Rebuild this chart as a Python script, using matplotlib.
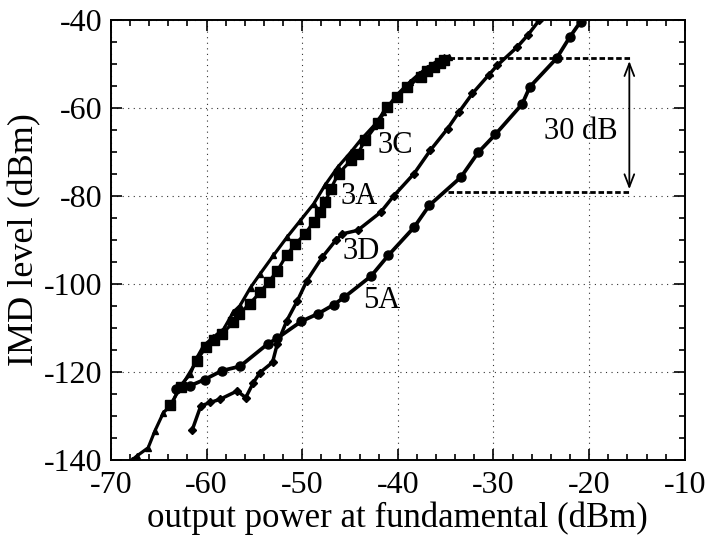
import matplotlib
matplotlib.use("Agg")
import matplotlib.pyplot as plt
from matplotlib.ticker import MultipleLocator

plt.rcParams['font.family'] = ['Liberation Serif', 'DejaVu Serif']
plt.rcParams['axes.unicode_minus'] = False

# ---- data ----
x_3c = [-67.8, -67.3, -66.1, -65.4, -64.5, -63.6, -62.9, -61.7, -61.0, -60.3, -59.3, -58.2,
        -57.2, -56.5, -55.4, -54.4, -53.0, -51.6, -50.2, -48.8, -47.6, -46.3, -44.9, -43.9,
        -42.5, -41.5, -40.1, -38.7, -37.8, -36.9, -36.0, -35.2, -34.7]
y_3c = [-140.0, -139.1, -137.2, -133.4, -129.2, -127.3, -123.5, -120.5, -116.7, -114.0, -112.1, -110.2,
        -106.4, -104.9, -100.8, -97.7, -93.5, -89.4, -85.6, -81.8, -77.5, -73.5, -70.0, -67.3,
        -64.0, -61.0, -57.0, -54.0, -52.3, -50.8, -49.5, -48.5, -48.3]

x_3a = [-63.8, -62.7, -61.0, -60.1, -59.2, -58.4, -57.2, -56.6, -55.5, -54.4, -53.5, -52.6,
        -51.6, -50.7, -49.7, -48.8, -48.1, -47.6, -47.0, -46.2, -44.9, -44.2, -43.4, -42.1,
        -41.1, -40.1, -39.0, -37.6, -36.9, -36.2, -35.6, -35.2]
y_3a = [-127.5, -123.5, -117.4, -114.4, -112.8, -111.4, -108.7, -106.8, -104.5, -101.9, -99.5, -97.0,
        -93.3, -90.9, -88.6, -85.9, -83.7, -81.4, -78.3, -74.9, -71.9, -70.4, -67.3, -63.5,
        -59.7, -57.5, -55.2, -52.9, -51.7, -50.6, -49.8, -49.1]

x_3d = [-61.5, -60.6, -59.6, -58.6, -56.8, -55.9, -55.1, -54.4, -53.1, -52.6, -51.6, -50.5,
        -49.5, -47.9, -46.5, -45.8, -44.2, -41.8, -40.4, -38.3, -36.6, -34.8, -33.6, -32.2,
        -30.5, -29.6, -27.5, -26.4, -25.2]
y_3d = [-133.2, -127.7, -126.9, -126.2, -124.3, -125.8, -122.4, -120.1, -117.8, -113.6, -108.3, -103.8,
        -99.2, -93.9, -90.1, -88.6, -87.8, -83.7, -79.9, -74.9, -69.6, -64.7, -60.9, -56.7,
        -52.5, -50.3, -46.1, -43.4, -40.0]

x_5a = [-63.2, -61.7, -60.2, -58.4, -56.5, -53.6, -52.6, -50.1, -48.3, -46.7, -45.6, -42.8,
        -41.0, -38.3, -36.7, -33.4, -31.6, -29.8, -27.0, -26.2, -23.4, -22.0, -20.9]
y_5a = [-123.8, -123.1, -121.7, -119.7, -118.7, -113.6, -112.3, -108.5, -106.7, -104.7, -103.0, -98.2,
        -93.5, -87.1, -82.1, -75.7, -70.1, -66.0, -59.1, -55.2, -48.7, -43.8, -40.4]

labels = ["3C", "3A", "3D", "5A"]
label_pos_x = [-40.3, -44.0, -43.8, -41.7]
label_pos_y = [-68.5, -80.2, -92.6, -103.8]

ref_top = -48.7
ref_bottom = -79.1
ref_x_start = [-34.6, -34.8]
ref_x_end = -15.6
arrow_x = -15.8

# ---- figure ----
fig = plt.figure(figsize=(7.06, 5.40), dpi=100)
ax = fig.add_axes([0.157, 0.148, 0.813, 0.815])

ax.plot(x_3c, y_3c, color='black', lw=2.3, marker='^', ms=4.5, zorder=3)
ax.plot(x_3a, y_3a, color='black', lw=2.3, marker='s', ms=6.5, zorder=3)
ax.plot(x_3d, y_3d, color='black', lw=2.5, marker='D', ms=4.5, zorder=3)
ax.plot(x_5a, y_5a, color='black', lw=2.7, marker='o', ms=6.5, zorder=3)

for t, lx, ly in zip(labels, label_pos_x, label_pos_y):
    ax.text(lx, ly, t, fontsize=22, ha='center', va='center', zorder=4)

# 30 dB reference lines and arrow
ax.plot([ref_x_start[0], ref_x_end], [ref_top, ref_top], color='black', lw=2.0,
        linestyle=(0, (2, 1)), zorder=2)
ax.plot([ref_x_start[1], ref_x_end], [ref_bottom, ref_bottom], color='black', lw=2.0,
        linestyle=(0, (2, 1)), zorder=2)
ax.annotate('', xy=(arrow_x, ref_top), xytext=(arrow_x, ref_bottom),
            arrowprops=dict(arrowstyle='<->,head_length=0.9,head_width=0.35', color='black', lw=1.3))
ax.text(-20.9, -65.4, '30 dB', fontsize=22, ha='center', va='center')

ax.set_xlim(-70, -10)
ax.set_ylim(-140, -40)
ax.xaxis.set_major_locator(MultipleLocator(10))
ax.xaxis.set_minor_locator(MultipleLocator(2))
ax.yaxis.set_major_locator(MultipleLocator(20))
ax.yaxis.set_minor_locator(MultipleLocator(5))
ax.tick_params(which='both', direction='in', top=True, right=True, labelsize=23, width=1.2)
ax.tick_params(which='major', length=8)
ax.tick_params(which='minor', length=4)
ax.tick_params(axis='x', which='major', pad=8)
ax.tick_params(axis='y', which='major', pad=6)
for s in ax.spines.values():
    s.set_linewidth(1.4)

ax.grid(True, which='major', color='black', lw=0.8, linestyle=(0, (1, 4)), alpha=0.8)
ax.set_axisbelow(True)

ax.set_xlabel('output power at fundamental (dBm)', fontsize=25, labelpad=1)
ax.set_ylabel('IMD level (dBm)', fontsize=26, labelpad=2)

fig.savefig('out.png', dpi=100)
